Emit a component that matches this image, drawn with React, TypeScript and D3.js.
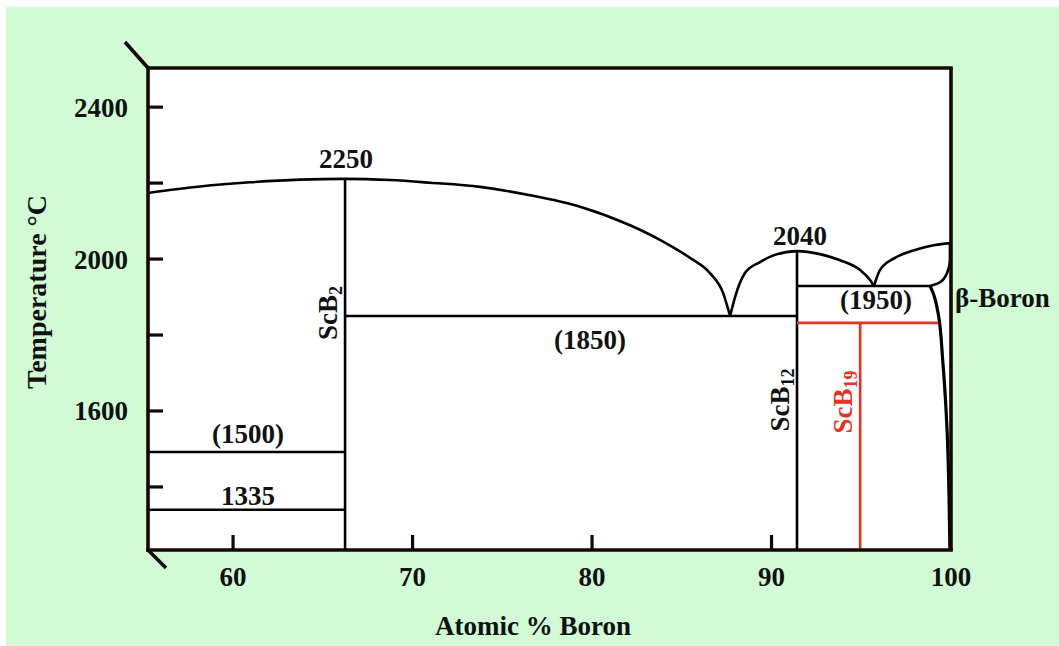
import React from "react";
import * as d3 from "d3";

// ---- data (atomic % B, temperature °C) ----
const xDomain: [number, number] = [55.26, 100];
const yDomain: [number, number] = [1234, 2503];

const yTicks = [1400, 1600, 1800, 2000, 2200, 2400];
const yTickLabels = [1600, 2000, 2400];
const xTicks = [60, 70, 80, 90];
const xTickLabels = [60, 70, 80, 90, 100];

const liquidusLeft: [number, number][] = [
  [55.26, 2174], [58.16, 2191], [60.95, 2202], [63.73, 2209], [66.24, 2211], [68.75, 2208],
  [70.97, 2201], [73.76, 2190], [76.55, 2168], [79.33, 2138], [82.12, 2089], [83.96, 2046],
  [85.46, 2003], [86.57, 1963], [87.3, 1911], [87.69, 1850],
];
const liquidusMid: [number, number][] = [
  [87.69, 1850], [87.97, 1900], [88.52, 1963], [89.36, 1992], [90.19, 2011],
  [91.42, 2021], [92.7, 2013], [93.82, 1997], [94.94, 1971], [95.49, 1945], [95.71, 1929],
];
const liquidusRight: [number, number][] = [
  [95.71, 1929], [96.04, 1971], [96.88, 2003], [97.99, 2024], [99.11, 2037], [99.94, 2042],
];
const leafCurve: [number, number][] = [
  [99.94, 2042], [99.94, 1997], [99.78, 1963], [99.39, 1939], [98.83, 1929],
];
const solidus: [number, number][] = [
  [98.83, 1929], [99.0, 1911], [99.28, 1858], [99.55, 1726], [99.78, 1550], [99.89, 1374], [99.94, 1234],
];

const scB2X = 66.24, scB2Top = 2211;
const scB12X = 91.42, scB12Top = 2021;
const eutectic1850 = { t: 1850, x0: 66.24, x1: 91.42 };
const line1950 = { t: 1929, x0: 91.42, x1: 98.83 };
const line1500 = { t: 1492, x0: 55.26, x1: 66.24 };
const line1335 = { t: 1340, x0: 55.26, x1: 66.24 };
const redH = { t: 1832, x0: 91.42, x1: 99.28 };
const redVX = 94.94;

const GREEN = "#d0fbd4";
const RED = "#e8321f";
const AXIS = "#160606";
const FONT = "'Liberation Serif', 'Times New Roman', serif";

export default function App() {
  const x = d3.scaleLinear().domain(xDomain).range([148, 951]);
  const y = d3.scaleLinear().domain(yDomain).range([550, 68]);
  const lineX = d3
    .line<[number, number]>()
    .x((d) => x(d[0]))
    .y((d) => y(d[1]))
    .curve(d3.curveMonotoneX);
  const lineY = d3
    .line<[number, number]>()
    .x((d) => x(d[0]))
    .y((d) => y(d[1]))
    .curve(d3.curveMonotoneY);

  const [xl, xr] = x.range();
  const [yb, yt] = y.range();

  const txt = { fontFamily: FONT, fontWeight: 700, fontSize: 27, fill: "#111" } as const;

  const hLine = (o: { t: number; x0: number; x1: number }, color: string, w = 2.6) => (
    <line x1={x(o.x0)} x2={x(o.x1)} y1={y(o.t)} y2={y(o.t)} stroke={color} strokeWidth={w} />
  );

  return (
    <svg width={1059} height={646} style={{ position: "absolute", left: 0, top: 0 }}>
      <rect x={6} y={7} width={1053} height={639} fill={GREEN} />
      <rect x={xl} y={yt} width={xr - xl} height={yb - yt} fill="#fff" />

      {/* phase lines */}
      <g fill="none" stroke="#000" strokeWidth={2.6}>
        <path d={lineX(liquidusLeft) || ""} />
        <path d={lineX(liquidusMid) || ""} />
        <path d={lineX(liquidusRight) || ""} />
        <path d={lineY(leafCurve) || ""} />
        <path d={lineY(solidus) || ""} strokeWidth={3.2} />
      </g>
      <line x1={x(scB2X)} x2={x(scB2X)} y1={y(scB2Top)} y2={yb} stroke="#000" strokeWidth={2.6} />
      <line x1={x(scB12X)} x2={x(scB12X)} y1={y(scB12Top)} y2={yb} stroke="#000" strokeWidth={2.6} />
      {hLine(eutectic1850, "#000")}
      {hLine(line1950, "#000")}
      {hLine(line1500, "#000")}
      {hLine(line1335, "#000")}
      {hLine(redH, RED)}
      <line x1={x(redVX)} x2={x(redVX)} y1={y(redH.t)} y2={yb} stroke={RED} strokeWidth={2.6} />

      {/* frame */}
      <g stroke={AXIS} strokeWidth={3.6} fill="none">
        <line x1={xl} x2={xl} y1={yt - 1.8} y2={yb + 1.8} />
        <line x1={xl - 1.8} x2={xr + 1.8} y1={yb} y2={yb} />
        <line x1={xl} x2={xr + 1.8} y1={yt} y2={yt} />
        <line x1={xr} x2={xr} y1={yt} y2={yb} />
        <line x1={xl} y1={yt} x2={xl - 23} y2={yt - 26} />
        <line x1={xl} y1={yb} x2={xl + 18} y2={yb + 18} />
      </g>

      {/* ticks */}
      <g stroke={AXIS} strokeWidth={3.2}>
        {yTicks.map((t) => (
          <line key={t} x1={xl} x2={xl + 15} y1={y(t)} y2={y(t)} />
        ))}
        {xTicks.map((t) => (
          <line key={t} x1={x(t)} x2={x(t)} y1={yb} y2={yb - 15} />
        ))}
      </g>
      {yTickLabels.map((t) => (
        <text key={t} {...txt} x={128} y={y(t)} dy="0.35em" textAnchor="end">{t}</text>
      ))}
      {xTickLabels.map((t) => (
        <text key={t} {...txt} x={x(t)} y={586} textAnchor="middle">{t}</text>
      ))}

      {/* axis titles */}
      <text {...txt} fontSize={28} transform="translate(46,292) rotate(-90)" textAnchor="middle">Temperature °C</text>
      <text {...txt} x={533} y={635} textAnchor="middle">Atomic % Boron</text>

      {/* annotations */}
      <text {...txt} x={346} y={168} textAnchor="middle">2250</text>
      <text {...txt} x={800} y={245} textAnchor="middle">2040</text>
      <text {...txt} x={876} y={309} textAnchor="middle">(1950)</text>
      <text {...txt} x={590} y={349} textAnchor="middle">(1850)</text>
      <text {...txt} x={248} y={443} textAnchor="middle">(1500)</text>
      <text {...txt} x={248} y={505} textAnchor="middle">1335</text>
      <text {...txt} x={955} y={307}>β-Boron</text>

      <text {...txt} transform="translate(337,313) rotate(-90)" textAnchor="middle">
        ScB<tspan fontSize={18} dy={5}>2</tspan>
      </text>
      <text {...txt} transform="translate(789,400) rotate(-90)" textAnchor="middle">
        ScB<tspan fontSize={18} dy={5}>12</tspan>
      </text>
      <text {...txt} fill={RED} transform="translate(852,402) rotate(-90)" textAnchor="middle">
        ScB<tspan fontSize={18} dy={5}>19</tspan>
      </text>
    </svg>
  );
}
